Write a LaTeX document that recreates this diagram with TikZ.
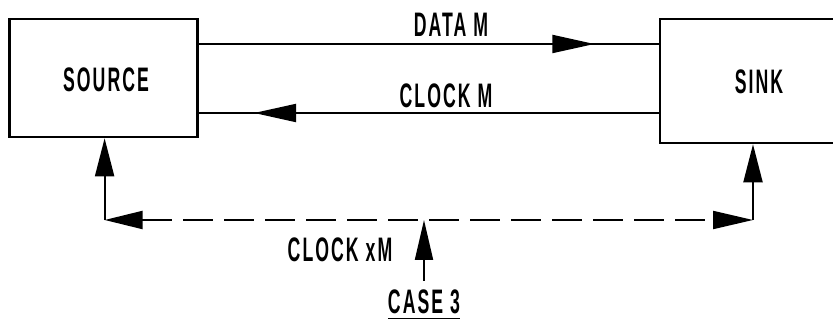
\documentclass[tikz,border=0pt]{standalone}
\usepackage{fontspec}
\newfontfamily\lbl{Liberation Sans}[FakeStretch=0.52,LetterSpace=6]
\usetikzlibrary{arrows.meta,decorations.markings}
\tikzset{
  box/.style={draw, line width=2.6pt, rectangle, inner sep=0pt},
  conn/.style={line width=2pt},
  midtip/.tip={Triangle[length=42pt,width=18pt]},
  txt/.style={font=\lbl\bfseries\fontsize{34}{38}\selectfont, inner sep=0pt},
  dsh/.style={dash pattern=on 30pt off 11pt},
}
\begin{document}
\begin{tikzpicture}[x=1pt,y=-1pt]
\useasboundingbox (0,0) rectangle (833,320);
\clip (0,0) rectangle (833,320);
\node[box, minimum width=188pt, minimum height=118pt] (src) at (103.6,78) {};
\node[txt] (srct) at (106,80) {SOURCE};
\node[box, minimum width=198pt, minimum height=124pt] (snk) at (759,81) {};
\node[txt] (snkt) at (759,82) {SINK};
\coordinate (dy) at (0,44);
\coordinate (cy) at (0,113);
\draw[conn, postaction={decorate}, decoration={markings, mark=at position 0.86 with {\arrow{midtip}}}]
  (src.east |- dy) -- (snk.west |- dy);
\draw[conn, postaction={decorate}, decoration={markings, mark=at position 0.88 with {\arrow{midtip}}}]
  (snk.west |- cy) -- (src.east |- cy);
\node[txt] (datat) at (451,25) {DATA M};
\node[txt] (clkt) at (446,96) {CLOCK M};
\coordinate (cl) at (104.6,220);
\coordinate (cr) at (753,220);
\draw[conn, -{Triangle[length=38pt,width=19pt]}] (cl) -- (cl |- src.south);
\draw[conn, -{Triangle[length=38pt,width=19pt]}] (cr) -- (cr |- snk.south);
\draw[conn, dsh, {Triangle[length=38pt,width=18pt]}-{Triangle[length=40pt,width=18pt]}] (cl) -- (cr);
\coordinate (cb) at (424,281);
\draw[conn, -{Triangle[length=40pt,width=18pt]}] (cb) -- (cb |- cl);
\node[txt] (xmt) at (340,250) {CLOCK xM};
\node[txt] (caset) at (424,302) {CASE 3};
\draw[line width=1.5pt] ([yshift=-4pt]caset.south west) -- ([yshift=-4pt]caset.south east);
\end{tikzpicture}
\end{document}
